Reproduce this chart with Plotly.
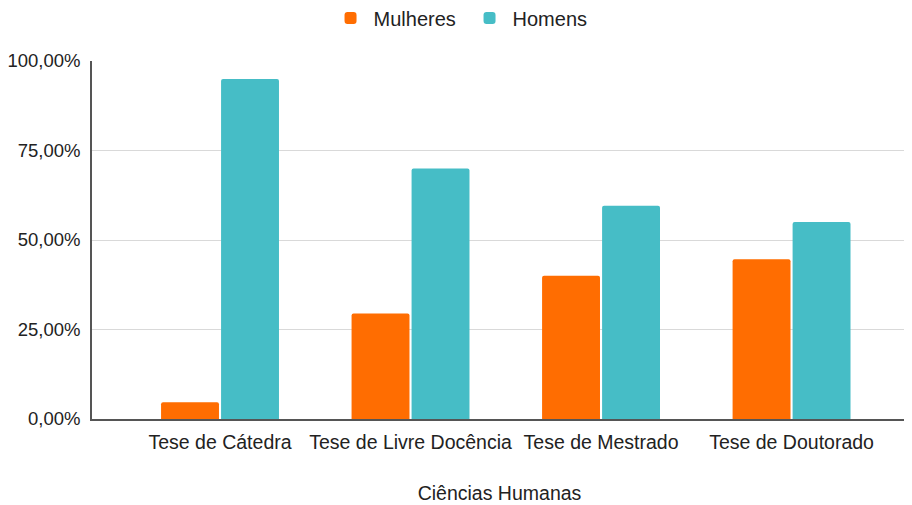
import plotly.graph_objects as go

categorias = ["Tese de Cátedra", "Tese de Livre Docência", "Tese de Mestrado", "Tese de Doutorado"]
mulheres = [4.7, 29.5, 40.0, 44.6]
homens = [95.0, 70.0, 59.6, 55.0]
y_ticks = [0, 25, 50, 75, 100]

fig = go.Figure()
fig.add_trace(go.Bar(name="Mulheres", x=categorias, y=[v / 100 for v in mulheres],
                     marker=dict(color="#FF6D01", line=dict(width=0))))
fig.add_trace(go.Bar(name="Homens", x=categorias, y=[v / 100 for v in homens],
                     marker=dict(color="#46BDC6", line=dict(width=0))))

# page body has an 8px margin, so the figure is sized 904x497
fig.update_layout(
    width=904, height=497,
    margin=dict(l=84, r=5, t=53, b=86, autoexpand=False),
    paper_bgcolor="white", plot_bgcolor="white",
    separators=",.",
    font=dict(family="Liberation Sans, Arial, sans-serif", size=18, color="#222"),
    barmode="group", bargap=0.37, bargroupgap=0.035, barcornerradius=2,
    legend=dict(orientation="h", x=0.289, xanchor="left", y=1.12, yanchor="middle",
                font=dict(size=20, color="#222"), itemwidth=36,
                entrywidth=88, entrywidthmode="pixels", traceorder="normal"),
    showlegend=True,
)
fig.update_xaxes(
    range=[-0.672, 3.606],
    showline=True, linecolor="#555", linewidth=1.5,
    showgrid=False, ticks="", tickfont=dict(size=19.5, color="#222"),
    ticklabelstandoff=5,
    title=dict(text="Ciências Humanas", font=dict(size=19.5, color="#222"), standoff=34),
    automargin=False,
)
fig.update_yaxes(
    range=[0, 1],
    tickvals=[v / 100 for v in y_ticks], tickformat=".2%",
    showline=True, linecolor="#555", linewidth=1.5,
    showgrid=True, gridcolor="#d9d9d9", gridwidth=1,
    zeroline=False, ticks="", ticklabelstandoff=6,
    tickfont=dict(size=18.5, color="#222"),
    automargin=False,
)

fig.write_html("out.html")
